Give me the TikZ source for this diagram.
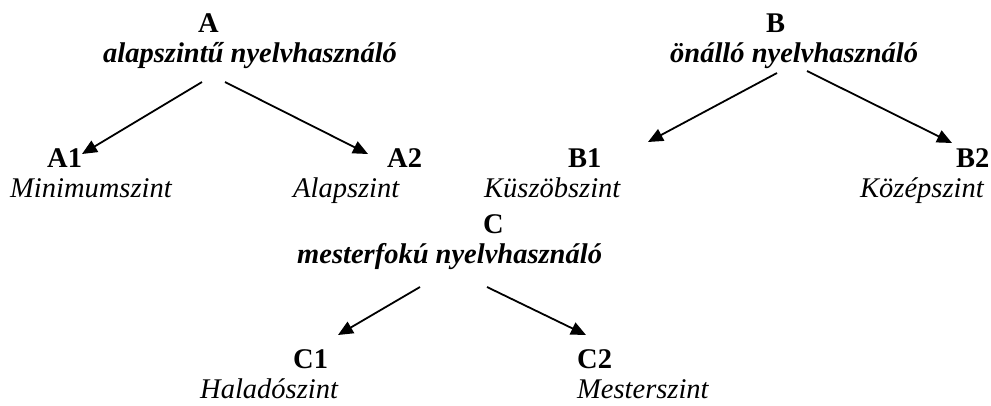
\documentclass[tikz,border=0pt]{standalone}
\usepackage{fontspec}
\setmainfont{Liberation Serif}
\usetikzlibrary{arrows.meta}
\tikzset{
  lbl/.style={anchor=base west, inner sep=0pt, font=\fontsize{28.5}{30}\selectfont},
  hd/.style={lbl, font=\fontsize{28.5}{30}\selectfont\bfseries},
  hdi/.style={lbl, font=\fontsize{28.5}{30}\selectfont\bfseries\itshape},
  it/.style={lbl, font=\fontsize{28.5}{30}\selectfont\itshape},
  arr/.style={line width=1.8pt, -{Triangle[length=15pt,width=13pt]}}
}
\begin{document}
\begin{tikzpicture}[x=1pt,y=-1pt]
\useasboundingbox (0,0) rectangle (991,405);
% top row
\node[hd] (A) at (198,32) {A};
\node[hdi] (Ad) at (103,62) {alapszintű nyelvhasználó};
\node[hd] (B) at (766,32) {B};
\node[hdi] (Bd) at (670,62) {önálló nyelvhasználó};
% second row
\node[hd] (A1) at (47,167) {A1};
\node[it] (A1d) at (10,197) {Minimumszint};
\node[hd] (A2) at (387,167) {A2};
\node[it] (A2d) at (293,197) {Alapszint};
\node[hd] (B1) at (568,167) {B1};
\node[it] (B1d) at (484,197) {Küszöbszint};
\node[hd] (B2) at (956,167) {B2};
\node[it] (B2d) at (860,197) {Középszint};
% C
\node[hd] (C) at (483,233) {C};
\node[hdi] (Cd) at (297,263) {mesterfokú nyelvhasználó};
\node[hd] (C1) at (293,368) {C1};
\node[it] (C1d) at (200,398) {Haladószint};
\node[hd] (C2) at (577,368) {C2};
\node[it] (C2d) at (577,398) {Mesterszint};
% connector ends
\coordinate (aL) at (202,82);  \coordinate (a1t) at (82,154);
\coordinate (aR) at (225,82);  \coordinate (a2t) at (368,154);
\coordinate (bL) at (777,73);  \coordinate (b1t) at (648,142);
\coordinate (bR) at (807,71);  \coordinate (b2t) at (952,143);
\coordinate (cL) at (420,287); \coordinate (c1t) at (338,335);
\coordinate (cR) at (487,287); \coordinate (c2t) at (586,335);
\draw[arr] (aL) -- (a1t);
\draw[arr] (aR) -- (a2t);
\draw[arr] (bL) -- (b1t);
\draw[arr] (bR) -- (b2t);
\draw[arr] (cL) -- (c1t);
\draw[arr] (cR) -- (c2t);
\end{tikzpicture}
\end{document}
